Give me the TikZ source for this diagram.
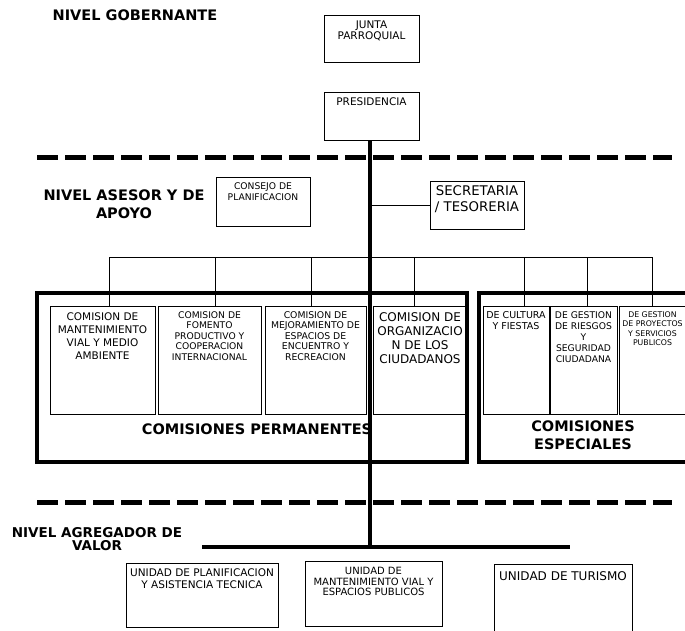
\documentclass[tikz,border=0pt]{standalone}
\usepackage{fontspec}
\setmainfont{DejaVu Sans}
\usetikzlibrary{positioning}

\begin{document}
\begin{tikzpicture}[x=1pt,y=-1pt,line width=0.9pt]
 \tikzstyle{box}=[draw,inner sep=0pt,outer sep=0pt]
 \tikzstyle{frame}=[draw,line width=4pt,inner sep=0pt,outer sep=0pt]
 \tikzstyle{txt}=[anchor=north,align=center,inner xsep=1pt,inner ysep=5pt]
 \tikzstyle{head}=[align=center,font=\bfseries\fontsize{14.5}{17.5}\selectfont]
 \tikzstyle{level}=[line width=5pt,dash pattern=on 21pt off 7pt]
 \useasboundingbox (0,0) rectangle (685,630);

 % niveles
 \node[head] (gob) at (135,15) {NIVEL GOBERNANTE};
 \node[head] (ase) at (124,204) {NIVEL ASESOR Y DE\\APOYO};
 \node[head,font=\bfseries\fontsize{13.5}{13.5}\selectfont] (agr) at (97,539) {NIVEL AGREGADOR DE\\VALOR};

 % nivel gobernante
 \node[box,minimum width=95pt,minimum height=47pt] (junta) at (371.5,38.5) {};
 \node[txt,font=\fontsize{10.5}{11.5}\selectfont] at (junta.north) {JUNTA\\PARROQUIAL};
 \node[box,minimum width=95pt,minimum height=48pt] (pres) at (371.5,116) {};
 \node[txt,font=\fontsize{10.5}{11.5}\selectfont] at (pres.north) {PRESIDENCIA};

 % nivel asesor
 \node[box,minimum width=94pt,minimum height=49pt] (consejo) at (263,201.5) {};
 \node[txt,font=\fontsize{9.2}{11}\selectfont] at (consejo.north) {CONSEJO DE\\PLANIFICACION};
 \node[box,minimum width=94pt,minimum height=48pt] (secre) at (477,205) {};
 \node[txt,inner ysep=4pt,font=\fontsize{13.3}{16}\selectfont] at (secre.north) {SECRETARIA\\/ TESORERIA};

 % comisiones
 \node[frame,minimum width=430pt,minimum height=169pt] (perm) at (252,377.5) {};
 \node[frame,minimum width=209pt,minimum height=169pt] (espec) at (583.5,377.5) {};
 \node[head] at (257,429) {COMISIONES PERMANENTES};
 \node[head] at (583,435) {COMISIONES\\ESPECIALES};

 \node[box,minimum width=105pt,minimum height=108pt] (c1) at (102.5,360) {};
 \node[txt,inner ysep=6pt,font=\fontsize{10.5}{13}\selectfont] at (c1.north) {COMISION DE\\MANTENIMIENTO\\VIAL Y MEDIO\\AMBIENTE};
 \node[box,minimum width=103pt,minimum height=108pt] (c2) at (209.5,360) {};
 \node[txt,font=\fontsize{9.2}{10.5}\selectfont] at (c2.north) {COMISION DE\\FOMENTO\\PRODUCTIVO Y\\COOPERACION\\INTERNACIONAL};
 \node[box,minimum width=101pt,minimum height=108pt] (c3) at (315.5,360) {};
 \node[txt,font=\fontsize{9.3}{10.5}\selectfont] at (c3.north) {COMISION DE\\MEJORAMIENTO DE\\ESPACIOS DE\\ENCUENTRO Y\\RECREACION};
 \node[box,minimum width=94pt,minimum height=108pt] (c4) at (420,360) {};
 \node[txt,inner ysep=6pt,font=\fontsize{12}{14}\selectfont] at (c4.north) {COMISION DE\\ORGANIZACIO\\N DE LOS\\CIUDADANOS};
 \node[box,minimum width=66pt,minimum height=108pt] (c5) at (516,360) {};
 \node[txt,font=\fontsize{9.5}{11}\selectfont] at (c5.north) {DE CULTURA\\Y FIESTAS};
 \node[box,minimum width=67pt,minimum height=108pt] (c6) at (583.5,360) {};
 \node[txt,font=\fontsize{9.2}{11}\selectfont] at (c6.north) {DE GESTION\\DE RIESGOS\\Y\\SEGURIDAD\\CIUDADANA};
 \node[box,minimum width=67pt,minimum height=108pt] (c7) at (652.5,360) {};
 \node[txt,font=\fontsize{7.8}{9.5}\selectfont] at (c7.north) {DE GESTION\\DE PROYECTOS\\Y SERVICIOS\\PUBLICOS};

 % nivel agregador de valor
 \node[box,minimum width=152pt,minimum height=64pt] (uplan) at (202,595) {};
 \node[txt,font=\fontsize{10.5}{12}\selectfont] at (uplan.north) {UNIDAD DE PLANIFICACION\\Y ASISTENCIA TECNICA};
 \node[box,minimum width=137pt,minimum height=65pt] (uvial) at (373.5,593.5) {};
 \node[txt,inner ysep=6pt,font=\fontsize{10}{10.5}\selectfont] at (uvial.north) {UNIDAD DE\\MANTENIMIENTO VIAL Y\\ESPACIOS PUBLICOS};
 \node[box,minimum width=138pt,minimum height=68pt] (utur) at (563,598) {};
 \node[txt,inner ysep=7pt,font=\fontsize{12}{14}\selectfont] at (utur.north) {UNIDAD DE TURISMO};

 % separadores
 \coordinate (d1l) at (37,157);
 \coordinate (d1r) at (672,157);
 \coordinate (d2l) at (37,502);
 \coordinate (d2r) at (672,502);
 \draw[level] (d1l) -- (d1r);
 \draw[level] (d2l) -- (d2r);

 % conexiones
 \coordinate (busl) at (109,257);
 \coordinate (busr) at (652,257);
 \draw (busl) -- (busr);
 \foreach \x/\c in {109/c1,215/c2,311/c3,414/c4,524/c5,587/c6,652/c7}
  \draw (\x,257) -- (\x,257 |- \c.north);
 \draw (secre.west) -- (secre.west -| pres.south);
 \coordinate (barl) at (202,547);
 \coordinate (barr) at (570,547);
 \draw[line width=4pt] (barl) -- (barr);
 \draw[line width=4pt] ([xshift=-1.5pt]pres.south) -- ([xshift=-1.5pt]pres.south |- barl);
\end{tikzpicture}
\end{document}
